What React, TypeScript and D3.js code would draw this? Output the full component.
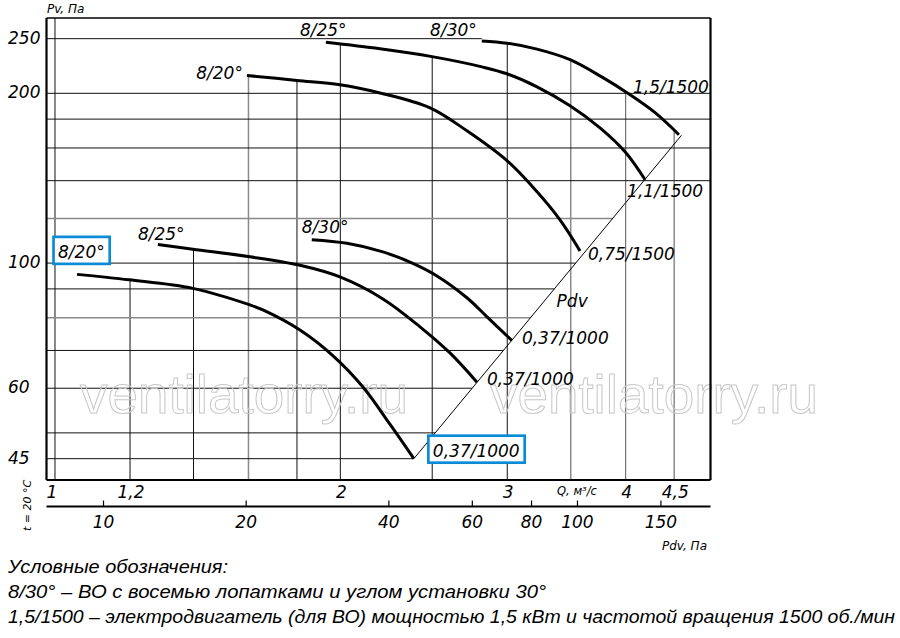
import React, { useEffect, useRef } from "react";
import * as d3 from "d3";

// ---------- data ----------
// Q, м³/с  vs  Pv, Па
const curve820Low: [number, number][] = [
  [1.055, 95.5], [1.197, 93.4], [1.398, 90.2], [1.606, 84.3], [1.657, 82.6],
  [1.813, 76.1], [1.965, 68.5], [2.113, 60.3], [2.256, 51.8], [2.391, 45.0],
];
const curve825Low: [number, number][] = [
  [1.284, 107.9], [1.398, 105.8], [1.606, 102.6], [1.813, 99.1], [1.998, 94.5],
  [2.218, 86.4], [2.427, 77.1], [2.61, 69.3], [2.787, 61.5],
];
const curve830Low: [number, number][] = [
  [1.866, 110.0], [2.032, 108.4], [2.218, 104.7], [2.385, 99.9], [2.529, 94.9],
  [2.72, 86.8], [2.856, 80.3], [3.034, 72.9],
];
const curve820High: [number, number][] = [
  [1.594, 215.1], [1.8, 210.8], [1.998, 207.1], [2.202, 200.3], [2.487, 188.5],
  [2.72, 171.6], [2.998, 151.9], [3.225, 133.8], [3.41, 119.3], [3.58, 105.1],
];
const curve825High: [number, number][] = [
  [1.931, 246.3], [2.202, 239.9], [2.499, 232.3], [2.828, 222.6], [2.998, 216.6],
  [3.225, 205.4], [3.494, 190.1], [3.758, 173.7], [3.994, 157.5], [4.193, 140.5],
];
const curve830High: [number, number][] = [
  [2.82, 247.7], [2.998, 245.4], [3.225, 239.5], [3.494, 229.4], [3.785, 213.2],
  [4.013, 200.5], [4.296, 184.8], [4.552, 168.9],
];
const pdvLine: [number, number][] = [[2.391, 45.0], [4.58, 168.5]];

const bladeLabels = ["8/20°", "8/25°", "8/30°", "8/20°", "8/25°", "8/30°"];
const motorLabels = ["0,37/1000", "0,37/1000", "0,37/1000", "0,75/1500", "1,1/1500", "1,5/1500"];

const qGrid = [1, 1.2, 1.4, 1.6, 1.8, 2, 2.5, 3, 3.5, 4, 4.5];
const qGridGrey = [1.6, 3.5, 4.5];
const qGridMid = [4];
const pGrid = [250, 200, 180, 160, 140, 120, 100, 90, 80, 70, 60, 50, 45];
const pGridGrey = [120, 80];
const pGridFull = [200, 180, 160, 140];
const p250EndQ = 2.82;

const pTicks = [250, 200, 100, 60, 45];
const qTicks = [1, 1.2, 2, 3, 4, 4.5];
const pdvTicks = [10, 20, 40, 60, 80, 100, 150];
const K_PDV = 7.9; // Pdv = K * Q²

const legendLines = [
  "Условные обозначения:",
  "8/30° – ВО с восемью лопатками и углом установки 30°",
  "1,5/1500 – электродвигатель (для ВО) мощностью 1,5 кВт и частотой вращения 1500 об./мин",
];

// ---------- layout / style ----------
const W = 900, H = 638;
const FL = 46.5, FR = 710.5, FT = 18, FB = 480;
const LABEL_FONT = "'DejaVu Sans', Verdana, sans-serif";
const BLUE = "#0b8ad6";

const curves = [curve820Low, curve825Low, curve830Low, curve820High, curve825High, curve830High];
// offsets in px for label placement relative to curve start (blade) / end (motor)
const startLayout = [
  { dx: -19, dy: -16.5, anchor: "start", box: true },
  { dx: -20, dy: -4.5, anchor: "start", box: false },
  { dx: -10, dy: -7, anchor: "start", box: false },
  { dx: -4, dy: 3.5, anchor: "end", box: false },
  { dx: -26, dy: -6, anchor: "start", box: false },
  { dx: -5, dy: -4.6, anchor: "end", box: false },
];
const endLayout = [
  { dx: 19, dy: -2, box: true },
  { dx: 10, dy: 3, box: false },
  { dx: 10, dy: 3, box: false },
  { dx: 8, dy: 9, box: false },
  { dx: -18, dy: 17, box: false },
  { dx: -46, dy: -42, box: false },
];

function interp(curve: [number, number][], q: number): number | null {
  if (q < curve[0][0] || q > curve[curve.length - 1][0]) return null;
  for (let i = 0; i < curve.length - 1; i++) {
    const [q0, p0] = curve[i], [q1, p1] = curve[i + 1];
    if (q >= q0 && q <= q1) {
      const t = (Math.log(q) - Math.log(q0)) / (Math.log(q1) - Math.log(q0));
      return Math.exp(Math.log(p0) + t * (Math.log(p1) - Math.log(p0)));
    }
  }
  return null;
}

export default function App() {
  const ref = useRef<SVGSVGElement | null>(null);

  useEffect(() => {
    const svg = d3.select(ref.current);
    svg.selectAll("*").remove();

    const x = d3.scaleLog().domain([0.9796, 4.915]).range([FL, FR]);
    const y = d3.scaleLog().domain([41.25, 272]).range([FB, FT]);
    const xPdv = d3.scaleLog()
      .domain([K_PDV * 0.9796 * 0.9796, K_PDV * 4.915 * 4.915])
      .range([FL, FR]);

    svg.append("rect").attr("width", W).attr("height", H).attr("fill", "#fff");

    // --- grid: vertical lines run from the bottom up to the curve envelope
    const gv = svg.append("g");
    qGrid.forEach((q) => {
      let env: number | null = null;
      curves.forEach((c) => {
        const p = interp(c, q);
        if (p !== null && (env === null || p > env)) env = p;
      });
      const yTop = env === null ? FT : y(env as number);
      const col = qGridGrey.includes(q) ? "#8a8a8a" : qGridMid.includes(q) ? "#555" : "#111";
      gv.append("line")
        .attr("x1", x(q)).attr("x2", x(q))
        .attr("y1", yTop).attr("y2", FB)
        .attr("stroke", col).attr("stroke-width", qGridGrey.includes(q) ? 1.5 : 1);
    });

    // --- grid: horizontal lines
    const pdvP0 = pdvLine[0][1], pdvP1 = pdvLine[1][1];
    const qOnPdv = (p: number) => {
      const t = (Math.log(p) - Math.log(pdvP0)) / (Math.log(pdvP1) - Math.log(pdvP0));
      return Math.exp(Math.log(pdvLine[0][0]) + t * (Math.log(pdvLine[1][0]) - Math.log(pdvLine[0][0])));
    };
    pGrid.forEach((p) => {
      let xEnd = FR;
      if (p === 250) xEnd = x(p250EndQ);
      else if (!pGridFull.includes(p) && p >= pdvP0 - 0.01 && p <= pdvP1) xEnd = x(qOnPdv(Math.max(p, pdvP0)));
      const grey = pGridGrey.includes(p);
      gv.append("line")
        .attr("x1", FL).attr("x2", xEnd)
        .attr("y1", y(p)).attr("y2", y(p))
        .attr("stroke", grey ? "#8a8a8a" : "#111")
        .attr("stroke-width", grey ? 1.5 : 1);
    });

    // --- watermark
    [80, 490].forEach((wx) => {
      svg.append("text")
        .attr("x", wx).attr("y", 413)
        .attr("font-family", "'Liberation Sans', Arial, sans-serif")
        .attr("font-size", 54)
        .attr("textLength", 328).attr("lengthAdjust", "spacingAndGlyphs")
        .attr("fill", "none").attr("stroke", "#c8c8c8").attr("stroke-width", 1)
        .text("ventilatorry.ru");
    });

    // --- curves
    const line = d3.line<[number, number]>()
      .x((d) => x(d[0])).y((d) => y(d[1]))
      .curve(d3.curveCatmullRom.alpha(0.5));
    curves.forEach((c) => {
      svg.append("path").attr("d", line(c) as string)
        .attr("fill", "none").attr("stroke", "#000").attr("stroke-width", 3)
        .attr("stroke-linecap", "butt");
    });

    // --- Pdv line
    svg.append("line")
      .attr("x1", x(pdvLine[0][0])).attr("y1", y(pdvLine[0][1]))
      .attr("x2", x(pdvLine[1][0])).attr("y2", y(pdvLine[1][1]))
      .attr("stroke", "#000").attr("stroke-width", 1);
    {
      const x0 = x(pdvLine[0][0]), y0 = y(pdvLine[0][1]);
      const x1 = x(pdvLine[1][0]), y1 = y(pdvLine[1][1]);
      const t = 0.47;
      svg.append("text")
        .attr("x", x0 + (x1 - x0) * t + 17).attr("y", y0 + (y1 - y0) * t)
        .attr("font-family", LABEL_FONT).attr("font-style", "oblique")
        .attr("font-size", 17).text("Pdv");
    }

    // --- labels
    const drawLabel = (tx: number, ty: number, txt: string, anchor: string, box: boolean) => {
      const g = svg.append("g");
      const rect = box ? g.append("rect") : null;
      const t = g.append("text")
        .attr("x", tx).attr("y", ty)
        .attr("text-anchor", anchor)
        .attr("font-family", LABEL_FONT).attr("font-style", "oblique")
        .attr("font-size", 17).attr("fill", "#000").text(txt);
      if (rect) {
        const w = (t.node() as SVGTextElement).getComputedTextLength();
        const left = anchor === "end" ? tx - w : tx;
        rect.attr("x", left - 4.5).attr("y", ty - 21)
          .attr("width", w + 9.5).attr("height", 27)
          .attr("fill", "#fff").attr("stroke", BLUE).attr("stroke-width", 2.7);
      }
    };
    curves.forEach((c, i) => {
      const s = c[0], e = c[c.length - 1];
      const sl = startLayout[i], el = endLayout[i];
      drawLabel(x(s[0]) + sl.dx, y(s[1]) + sl.dy, bladeLabels[i], sl.anchor, sl.box);
      drawLabel(x(e[0]) + el.dx, y(e[1]) + el.dy, motorLabels[i], "start", el.box);
    });

    // --- frame
    svg.append("line").attr("x1", FL).attr("x2", FR).attr("y1", FT).attr("y2", FT)
      .attr("stroke", "#000").attr("stroke-width", 1.6);
    svg.append("line").attr("x1", FL).attr("x2", FR).attr("y1", FB).attr("y2", FB)
      .attr("stroke", "#000").attr("stroke-width", 2.2);
    svg.append("line").attr("x1", FL).attr("x2", FL).attr("y1", FT).attr("y2", FB)
      .attr("stroke", "#000").attr("stroke-width", 2.2);
    svg.append("line").attr("x1", FR).attr("x2", FR).attr("y1", FT).attr("y2", FB)
      .attr("stroke", "#000").attr("stroke-width", 2.2);

    const fmt = (v: number) => String(v).replace(".", ",");

    // --- y tick labels
    pTicks.forEach((p) => {
      svg.append("text").attr("x", 8).attr("y", y(p) + 5)
        .attr("font-family", LABEL_FONT).attr("font-style", "oblique")
        .attr("font-size", 17).text(fmt(p));
    });
    svg.append("text").attr("x", 47).attr("y", 13)
      .attr("font-family", LABEL_FONT).attr("font-style", "oblique")
      .attr("font-size", 12).text("Pv, Па");

    // --- Q tick labels
    qTicks.forEach((q) => {
      svg.append("text").attr("x", x(q) + (q === 1 ? -3 : 1)).attr("y", 498)
        .attr("text-anchor", "middle")
        .attr("font-family", LABEL_FONT).attr("font-style", "oblique")
        .attr("font-size", 17).text(fmt(q));
    });
    svg.append("text").attr("x", 577).attr("y", 495)
      .attr("text-anchor", "middle")
      .attr("font-family", LABEL_FONT).attr("font-style", "oblique")
      .attr("font-size", 11.5).text("Q, м³/с");

    // --- Pdv axis
    const yA = 506.5;
    svg.append("line").attr("x1", FL).attr("x2", FR).attr("y1", yA).attr("y2", yA)
      .attr("stroke", "#000").attr("stroke-width", 2);
    pdvTicks.forEach((p) => {
      svg.append("line").attr("x1", xPdv(p)).attr("x2", xPdv(p))
        .attr("y1", yA - 6).attr("y2", yA).attr("stroke", "#000").attr("stroke-width", 1.2);
      svg.append("text").attr("x", xPdv(p)).attr("y", 528)
        .attr("text-anchor", "middle")
        .attr("font-family", LABEL_FONT).attr("font-style", "oblique")
        .attr("font-size", 17).text(fmt(p));
    });
    svg.append("text").attr("x", 662).attr("y", 550)
      .attr("font-family", LABEL_FONT).attr("font-style", "oblique")
      .attr("font-size", 12).text("Pdv, Па");

    svg.append("text")
      .attr("transform", "translate(31,531) rotate(-90)")
      .attr("font-family", LABEL_FONT).attr("font-style", "oblique")
      .attr("font-size", 11).text("t = 20 °C");

    // --- legend
    const legendY = [573, 598, 623];
    const legendW = [220, 538, 887];
    legendLines.forEach((s, i) => {
      svg.append("text").attr("x", 8).attr("y", legendY[i])
        .attr("font-family", "'Liberation Sans Narrow', 'Liberation Sans', Arial, sans-serif")
        .attr("font-style", "italic").attr("font-size", 18.5)
        .attr("textLength", legendW[i]).attr("lengthAdjust", "spacingAndGlyphs")
        .text(s);
    });
  }, []);

  return (
    <div style={{ position: "absolute", left: 0, top: 0 }}>
      <svg ref={ref} width={W} height={H} style={{ display: "block" }} />
    </div>
  );
}
